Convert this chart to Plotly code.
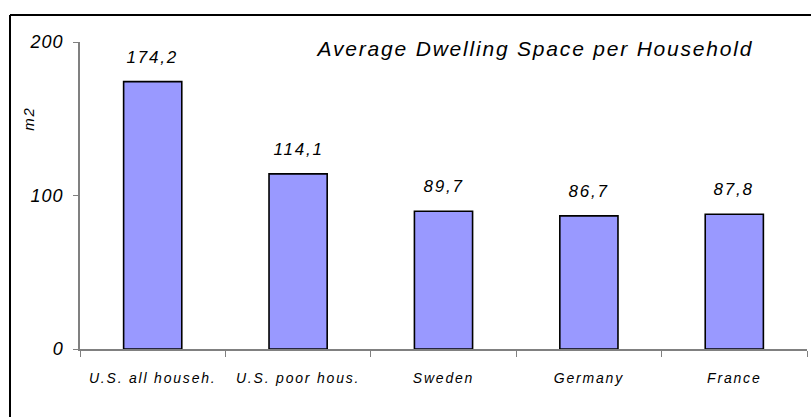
import plotly.graph_objects as go

categories = ["U.S. all househ.", "U.S. poor hous.", "Sweden", "Germany", "France"]
values = [174.2, 114.1, 89.7, 86.7, 87.8]
value_labels = ["174,2", "114,1", "89,7", "86,7", "87,8"]
y_ticks = [0, 100, 200]
title_text = "Average Dwelling Space per Household"
y_title = "m2"

FONT = "Liberation Sans, Arial, sans-serif"

fig = go.Figure()
fig.add_trace(go.Bar(
    x=categories, y=values, width=0.4,
    marker=dict(color="#9999FF", line=dict(color="black", width=1.6)),
    hoverinfo="skip",
))

annotations = []
for c, v, lab in zip(categories, values, value_labels):
    annotations.append(dict(
        x=c, y=v, xref="x", yref="y", text=lab, showarrow=False,
        yanchor="bottom", yshift=13,
        font=dict(family=FONT, size=17, style="italic", color="black"),
    ))
annotations.append(dict(
    x=(535 - 80) / 727, xref="paper", y=(349 - 48) / 307, yref="paper",
    xanchor="center", yanchor="middle",
    text=title_text, showarrow=False,
    font=dict(family=FONT, size=21, style="italic", color="black"),
))
annotations.append(dict(
    x=(28 - 80) / 727, xref="paper", y=(349 - 119) / 307, yref="paper",
    xanchor="center", yanchor="middle",
    text=y_title, textangle=-90, showarrow=False,
    font=dict(family=FONT, size=15, style="italic", color="black"),
))

x_left = (10 - 80) / 727
x_right = (811 - 80) / 727
y_top = (349 - 15) / 307
y_bottom = (349 - 430) / 307

fig.update_layout(
    width=811, height=417,
    margin=dict(l=80, r=4, t=42, b=68),
    paper_bgcolor="white", plot_bgcolor="white",
    showlegend=False,
    annotations=annotations,
    xaxis=dict(
        type="category", tickson="boundaries", ticks="outside", ticklen=6,
        tickcolor="#808080", showline=True, linecolor="#808080", linewidth=1.5,
        showgrid=False, zeroline=False, ticklabelstandoff=15,
        tickfont=dict(family=FONT, size=14, style="italic", color="black"),
    ),
    yaxis=dict(
        range=[0, 200], tickvals=y_ticks, ticks="outside", ticklen=5,
        tickcolor="#808080", showline=True, linecolor="#808080", linewidth=1.5,
        showgrid=False, zeroline=False, ticklabelstandoff=6,
        tickfont=dict(family=FONT, size=18, style="italic", color="black"),
    ),
    shapes=[
        dict(type="line", xref="paper", yref="paper",
             x0=x_left, x1=x_right, y0=y_top, y1=y_top,
             line=dict(color="black", width=2)),
        dict(type="line", xref="paper", yref="paper",
             x0=x_left, x1=x_left, y0=y_top, y1=y_bottom,
             line=dict(color="black", width=2)),
    ],
)

post = """
document.documentElement.style.overflow = 'hidden';
document.body.style.overflow = 'hidden';
document.body.style.margin = '0';
var s = document.createElement('style');
s.innerHTML = 'html,body{overflow:hidden;margin:0} .xtick text{letter-spacing:1.8px} .annotation-text{letter-spacing:1.8px} .ytick text{letter-spacing:1px}';
document.head.appendChild(s);
"""
fig.write_html("out.html", post_script=post, config={"displayModeBar": False})
